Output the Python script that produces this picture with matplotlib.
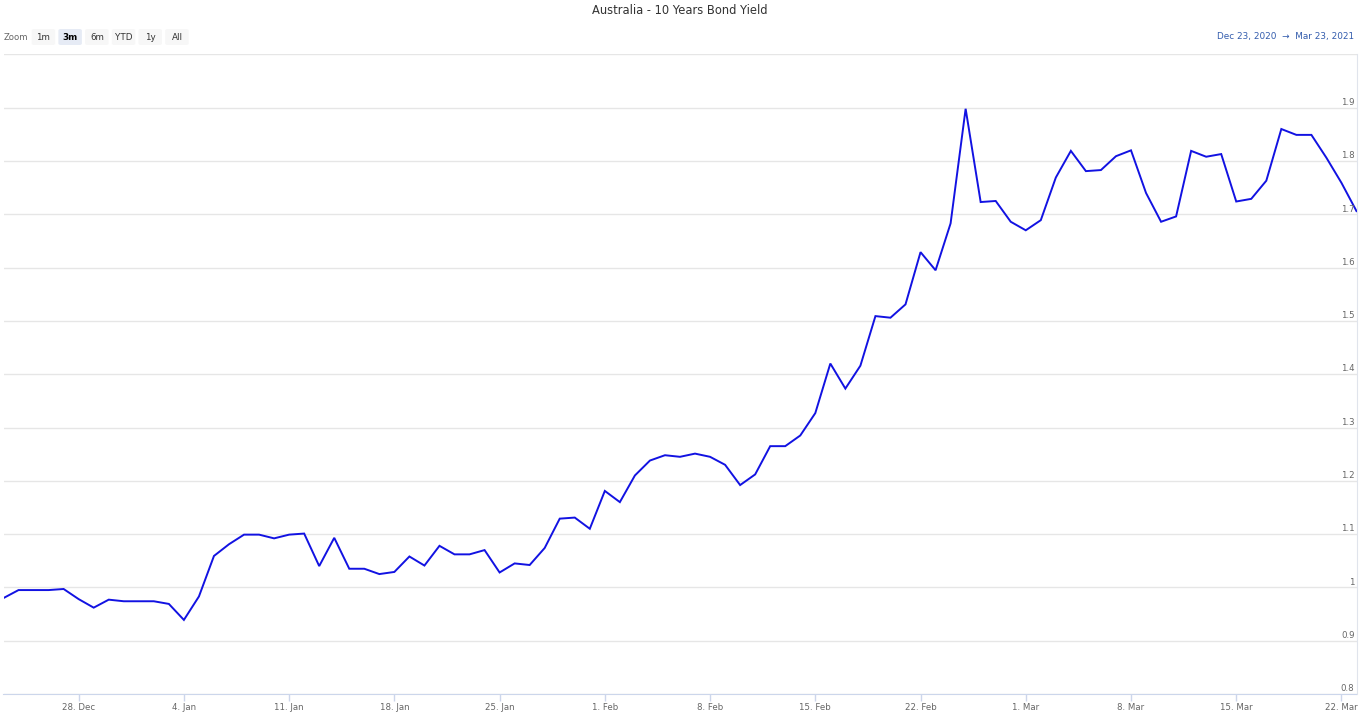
import pandas as pd
import matplotlib
matplotlib.use('Agg')
import matplotlib.pyplot as plt
import matplotlib.dates as mdates
from matplotlib.patches import FancyBboxPatch
from matplotlib.transforms import blended_transform_factory

# Datos: rendimiento diario del bono australiano a 10 años
fechas = pd.date_range('2020-12-23', '2021-03-23', freq='D')
rendimiento = [
    0.980, 0.995, 0.995, 0.995, 0.997, 0.978, 0.962, 0.977, 0.974, 0.974,
    0.974, 0.969, 0.939, 0.983, 1.059, 1.081, 1.099, 1.099, 1.092, 1.099,
    1.101, 1.040, 1.093, 1.035, 1.035, 1.025, 1.029, 1.058, 1.041, 1.078,
    1.062, 1.062, 1.070, 1.028, 1.045, 1.042, 1.074, 1.129, 1.131, 1.110,
    1.181, 1.160, 1.210, 1.238, 1.248, 1.245, 1.251, 1.245, 1.230, 1.192,
    1.212, 1.265, 1.265, 1.285, 1.327, 1.420, 1.373, 1.416, 1.509, 1.506,
    1.531, 1.629, 1.595, 1.683, 1.898, 1.723, 1.725, 1.686, 1.670, 1.689,
    1.769, 1.819, 1.781, 1.783, 1.809, 1.820, 1.740, 1.686, 1.696, 1.819,
    1.808, 1.813, 1.724, 1.729, 1.763, 1.860, 1.849, 1.849, 1.806, 1.759,
    1.706,
]
y_ticks = [0.8, 0.9, 1.0, 1.1, 1.2, 1.3, 1.4, 1.5, 1.6, 1.7, 1.8, 1.9, 2.0]
y_labels = ['0.8', '0.9', '1', '1.1', '1.2', '1.3', '1.4', '1.5', '1.6', '1.7', '1.8', '1.9', '']
botones = ['1m', '3m', '6m', 'YTD', '1y', 'All']
boton_activo = '3m'

W, H = 1360, 716
fig = plt.figure(figsize=(W / 100, H / 100), dpi=100)
plt.rcParams['font.family'] = 'DejaVu Sans'

def fx(px):
    return px / W

def fy(py):
    return 1 - py / H

# Área del gráfico
ax = fig.add_axes([fx(3.5), fy(694), fx(1353), (694 - 54.4) / H])
ax.plot(fechas, rendimiento, color='#1212e2', linewidth=1.4, solid_joinstyle='miter')
ax.set_xlim(fechas[0], fechas[-1])
ax.set_ylim(0.8, 2.0)

ax.set_yticks(y_ticks)
ax.yaxis.set_ticklabels([])
ax.tick_params(axis='y', length=0)
ax.grid(axis='y', color='#e6e6e6', linewidth=1)
ax.set_axisbelow(True)

trans = blended_transform_factory(ax.transAxes, ax.transData)
for v, lab in zip(y_ticks, y_labels):
    ax.text(0.9985, v + 0.0015, lab, transform=trans, ha='right', va='bottom',
            fontsize=6.2, color='#666666')

ax.xaxis.set_major_locator(mdates.WeekdayLocator(byweekday=mdates.MO))
ax.xaxis.set_major_formatter(mdates.DateFormatter('%-d. %b'))
ax.tick_params(axis='x', length=5, width=1, color='#ccd6eb', labelsize=6.2,
               labelcolor='#666666', pad=1.5)

for s in ['left', 'top']:
    ax.spines[s].set_visible(False)
ax.spines['bottom'].set_color('#ccd6eb')
ax.spines['right'].set_color('#e0e4ec')

# Título
fig.text(0.5, fy(10.5), 'Australia - 10 Years Bond Yield', ha='center', va='center',
         fontsize=8.3, color='#333333')

# Selector de zoom
fig.text(fx(4), fy(37), 'Zoom', ha='left', va='center', fontsize=6.1, color='#666666')
for i, b in enumerate(botones):
    x0 = 31.7 + i * 26.7
    activo = b == boton_activo
    rect = FancyBboxPatch((fx(x0), fy(45)), fx(23.5), 16 / H,
                          boxstyle='round,pad=0,rounding_size=0.002',
                          transform=fig.transFigure,
                          facecolor='#e6ebf5' if activo else '#f7f7f7',
                          edgecolor='none')
    fig.patches.append(rect)
    fig.text(fx(x0 + 11.75), fy(37), b, ha='center', va='center', fontsize=6.3,
             color='#000000' if activo else '#333333',
             fontweight='bold' if activo else 'normal')

# Rango de fechas
fig.text(fx(1354), fy(37), 'Dec 23, 2020  \u2192  Mar 23, 2021', ha='right', va='center',
         fontsize=6.4, color='#335cad')

fig.savefig('out.png', dpi=100, facecolor='white')
